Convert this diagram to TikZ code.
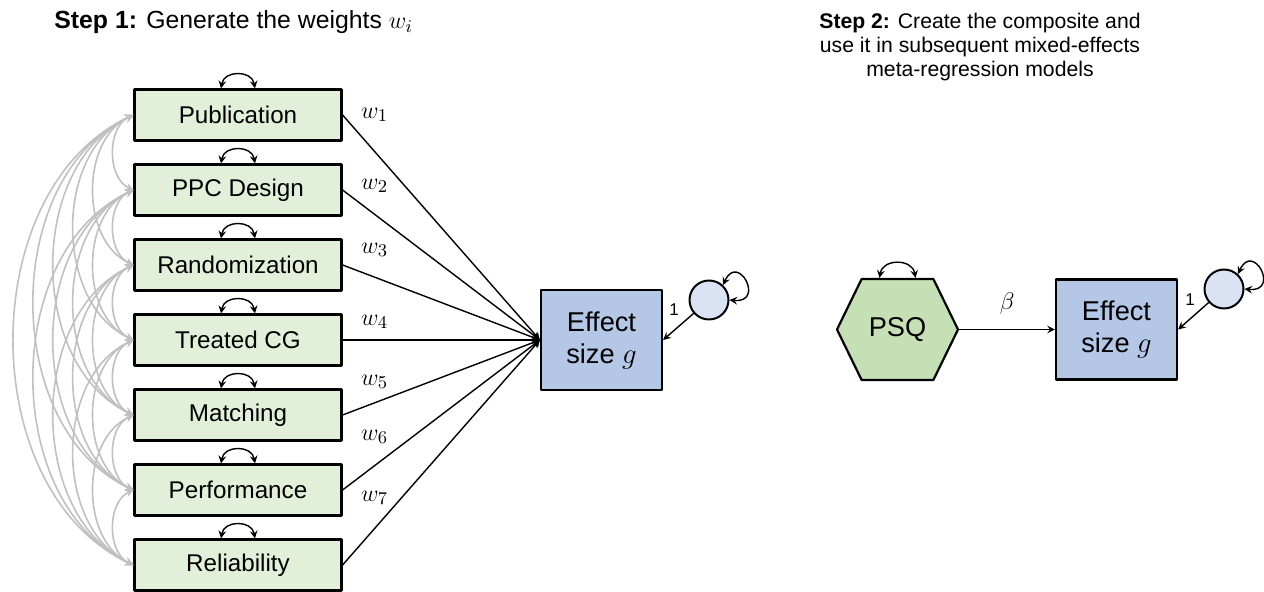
\documentclass[tikz,border=0pt]{standalone}
\usepackage{fontspec}
\setmainfont{Liberation Sans}
\usetikzlibrary{shapes.symbols}
\definecolor{boxgreen}{HTML}{E2F0D9}
\definecolor{hexgreen}{HTML}{C5E0B4}
\definecolor{effblue}{HTML}{B4C7E7}
\definecolor{errblue}{HTML}{DAE3F3}
\definecolor{covgray}{HTML}{C0C0C0}
\begin{document}
\begin{tikzpicture}[x=0.5pt, y=0.5pt, font=\fontsize{12.1}{13}\selectfont, >=stealth, line join=round,
	var/.style={draw, line width=1.1pt, fill=boxgreen, minimum width=103.5pt, minimum height=25.5pt, inner sep=0pt},
	outc/.style={draw, line width=1.1pt, fill=effblue, minimum width=60.5pt, minimum height=50pt, align=center, inner sep=0pt, font=\fontsize{13.6}{16}\selectfont},
	err/.style={draw, line width=1pt, fill=errblue, circle, minimum size=19.5pt, inner sep=0pt},
	hex/.style={draw, line width=1.1pt, fill=hexgreen, signal, signal to=east and west, signal pointer angle=128, minimum width=60.5pt, minimum height=50.5pt, inner sep=0pt, font=\fontsize{13.6}{16}\selectfont},
	cov/.style={<->, covgray, line width=0.8pt},
	var2/.style={<->, line width=0.7pt, bend left=80, looseness=1.4},
	path/.style={->, line width=0.7pt},
	loop/.style={<->, line width=0.7pt},
	one/.style={font=\fontsize{8.5}{9}\selectfont},
	wlab/.style={font=\fontsize{13}{14}\selectfont}]
	\useasboundingbox (0,0) rectangle (1264,-592);
	% step 1
	\node[anchor=west, inner sep=0pt, font=\fontsize{12.4}{13}\selectfont] (t1) at (54,-22) {\textbf{Step 1:} Generate the weights $w_i$};
	\foreach \name [count=\i] in {Publication, PPC Design, Randomization, Treated CG, Matching, Performance, Reliability}
		\node[var] (v\i) at (238,{-115-75*(\i-1)}) {\name};
	\node[outc] (g1) at (601.5,-340) {Effect\\size $g$};
	\node[err] (e1) at (709,-300) {};
	\foreach \i/\dy in {1/0, 2/4, 3/15, 4/18, 5/33, 6/53, 7/67}{
		\draw[path] (v\i.east) -- (g1.west);
		\node[wlab] (w\i) at ([shift={(32,\dy)}]v\i.east) {$w_\i$};
		\draw[var2] ([xshift=-8.5pt]v\i.north) to ([xshift=8.5pt]v\i.north);
	}
	\foreach \i in {1,...,6}{
		\pgfmathtruncatemacro\k{\i+1}
		\foreach \j in {\k,...,7}
			\draw[cov] (v\i.west) to[bend right=65] (v\j.west);
	}
	\draw[path] (e1) -- (g1.east);
	\node[one] (n1) at (674,-310) {1};
	\draw[loop] (e1.47) .. controls +(65:36) and +(-5:36) .. (e1.0);
	% step 2
	\node[align=center, font=\fontsize{10.6}{12}\selectfont] (t2) at (980,-47) {\textbf{Step 2:} Create the composite and\\use it in subsequent mixed-effects\\meta-regression models};
	\node[hex] (psq) at (897.5,-329.5) {PSQ};
	\node[outc] (g2) at (1116.5,-329.5) {Effect\\size $g$};
	\node[err] (e2) at (1224,-289) {};
	\draw[path] (psq.east) -- (g2.west) node[wlab, midway, above=4pt] {$\beta$};
	\draw[var2] ([xshift=-9pt]psq.north) to ([xshift=9pt]psq.north);
	\draw[path] (e2) -- (g2.east);
	\node[one] (n2) at (1190,-300) {1};
	\draw[loop] (e2.47) .. controls +(65:36) and +(-5:36) .. (e2.0);
\end{tikzpicture}
\end{document}
